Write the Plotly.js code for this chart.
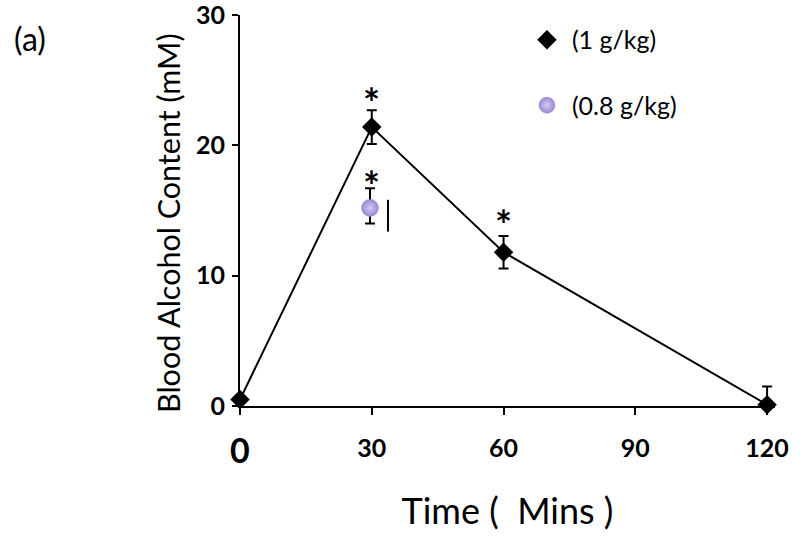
<!DOCTYPE html>
<html><head><meta charset="utf-8">
<script src="https://cdn.plot.ly/plotly-3.0.1.min.js"></script>
<style>html,body{margin:0;padding:0;background:#fff}#chart{width:806px;height:536px}</style>
</head><body><div id="chart"></div>
<script>
// 1 g/kg series
const timeMins = [0, 30, 60, 120];
const bac1g = [0.5, 21.4, 11.8, 0.1];
const err1g = [0, 1.3, 1.25, 1.4];
// 0.8 g/kg series
const time08 = [29.6];
const bac08 = [15.2];
const err08Plus = [1.5];
const err08Minus = [1.2];
// stray error stem beside the 0.8 g/kg point
const strayX = [33.7];
const strayY = [14.6];
const strayErr = [1.22];
// significance markers
const starX = [30, 30, 60];
const starY = [23.9, 17.5, 14.5];
// ticks
const xTickVals = [0, 30, 60, 90, 120];
const xTickText = ['', '30', '60', '90', '120'];
const yTickVals = [0, 10, 20, 30];
const yTickText = ['0', '10', '20', '30'];

const FONT = 'Lato, "Open Sans", sans-serif';

const traces = [
  {x: timeMins, y: bac1g, mode: 'lines', line: {color: '#000', width: 2}, showlegend: false, cliponaxis: false, hoverinfo: 'skip'},
  {x: timeMins, y: bac1g, mode: 'markers', name: '(1 g/kg)', legendgroup: 'a',
   marker: {symbol: 'diamond', size: 15, color: '#000', line: {color: '#000', width: 0}},
   error_y: {type: 'data', array: err1g, visible: true, color: '#000', thickness: 2, width: 5},
   cliponaxis: false},
  {x: time08, y: bac08, mode: 'markers', name: '(0.8 g/kg)', legendgroup: 'b',
   marker: {symbol: 'circle', size: 17, color: '#9c89d4', line: {color: '#9180c8', width: 0.5},
            gradient: {type: 'radial', color: '#d4c9f5'}},
   error_y: {type: 'data', symmetric: false, array: err08Plus, arrayminus: err08Minus, visible: true, color: '#000', thickness: 2, width: 5},
   cliponaxis: false},
  {x: strayX, y: strayY, mode: 'markers', showlegend: false, marker: {size: 1, color: 'rgba(0,0,0,0)'},
   error_y: {type: 'data', array: strayErr, visible: true, color: '#000', thickness: 2, width: 0}, hoverinfo: 'skip'}
];

const annotations = starX.map((x, i) => ({
  x: x, y: starY[i], xref: 'x', yref: 'y', text: '<b>*</b>', showarrow: false,
  font: {family: FONT, size: 40, color: '#000'}, xanchor: 'center', yanchor: 'middle', yshift: -8
}));
annotations.push({x: 0, y: 0, xref: 'x', yref: 'y', text: '<b>0</b>', showarrow: false,
  font: {family: FONT, size: 34, color: '#000'}, xanchor: 'center', yanchor: 'middle', yshift: -43});
annotations.push({x: (30 - 240) / 535, y: (406 - 38) / 391, xref: 'paper', yref: 'paper', text: '(a)', showarrow: false,
  font: {family: FONT, size: 32, color: '#000'}, xanchor: 'center', yanchor: 'middle'});
annotations.push({x: (168 - 240) / 535, y: (406 - 223) / 391, xref: 'paper', yref: 'paper',
  text: 'Blood Alcohol Content (mM)', textangle: -90, showarrow: false,
  font: {family: FONT, size: 30.5, color: '#000'}, xanchor: 'center', yanchor: 'middle'});

const layout = {
  width: 806, height: 536,
  margin: {l: 240, r: 31, t: 15, b: 130},
  paper_bgcolor: '#fff', plot_bgcolor: '#fff',
  font: {family: FONT, color: '#000'},
  showlegend: true,
  legend: {x: 0.527, y: 0.995, xanchor: 'left', yanchor: 'top', tracegroupgap: 30, itemwidth: 40,
    font: {family: FONT, size: 25, color: '#000'}, bgcolor: 'rgba(0,0,0,0)', itemsizing: 'trace'},
  xaxis: {range: [0, 121.8], tickvals: xTickVals, ticktext: xTickText, showgrid: false, zeroline: false,
    showline: true, linecolor: '#000', linewidth: 2, ticks: 'outside', ticklen: 7, tickwidth: 2, tickcolor: '#000',
    ticklabelstandoff: 12,
    tickfont: {family: FONT, size: 25, color: '#000', weight: 'bold'},
    title: {text: 'Time (  Mins )', font: {family: FONT, size: 36, color: '#000'}, standoff: 38}},
  yaxis: {range: [0, 30], tickvals: yTickVals, ticktext: yTickText, showgrid: false, zeroline: false,
    showline: true, linecolor: '#000', linewidth: 2, ticks: 'outside', ticklen: 6, tickwidth: 2, tickcolor: '#000',
    ticklabelstandoff: 2, ticklabeloverflow: 'allow',
    tickfont: {family: FONT, size: 25, color: '#000', weight: 'bold'}},
  annotations: annotations
};

Plotly.newPlot('chart', traces, layout, {displayModeBar: false, staticPlot: true});
</script></body></html>
